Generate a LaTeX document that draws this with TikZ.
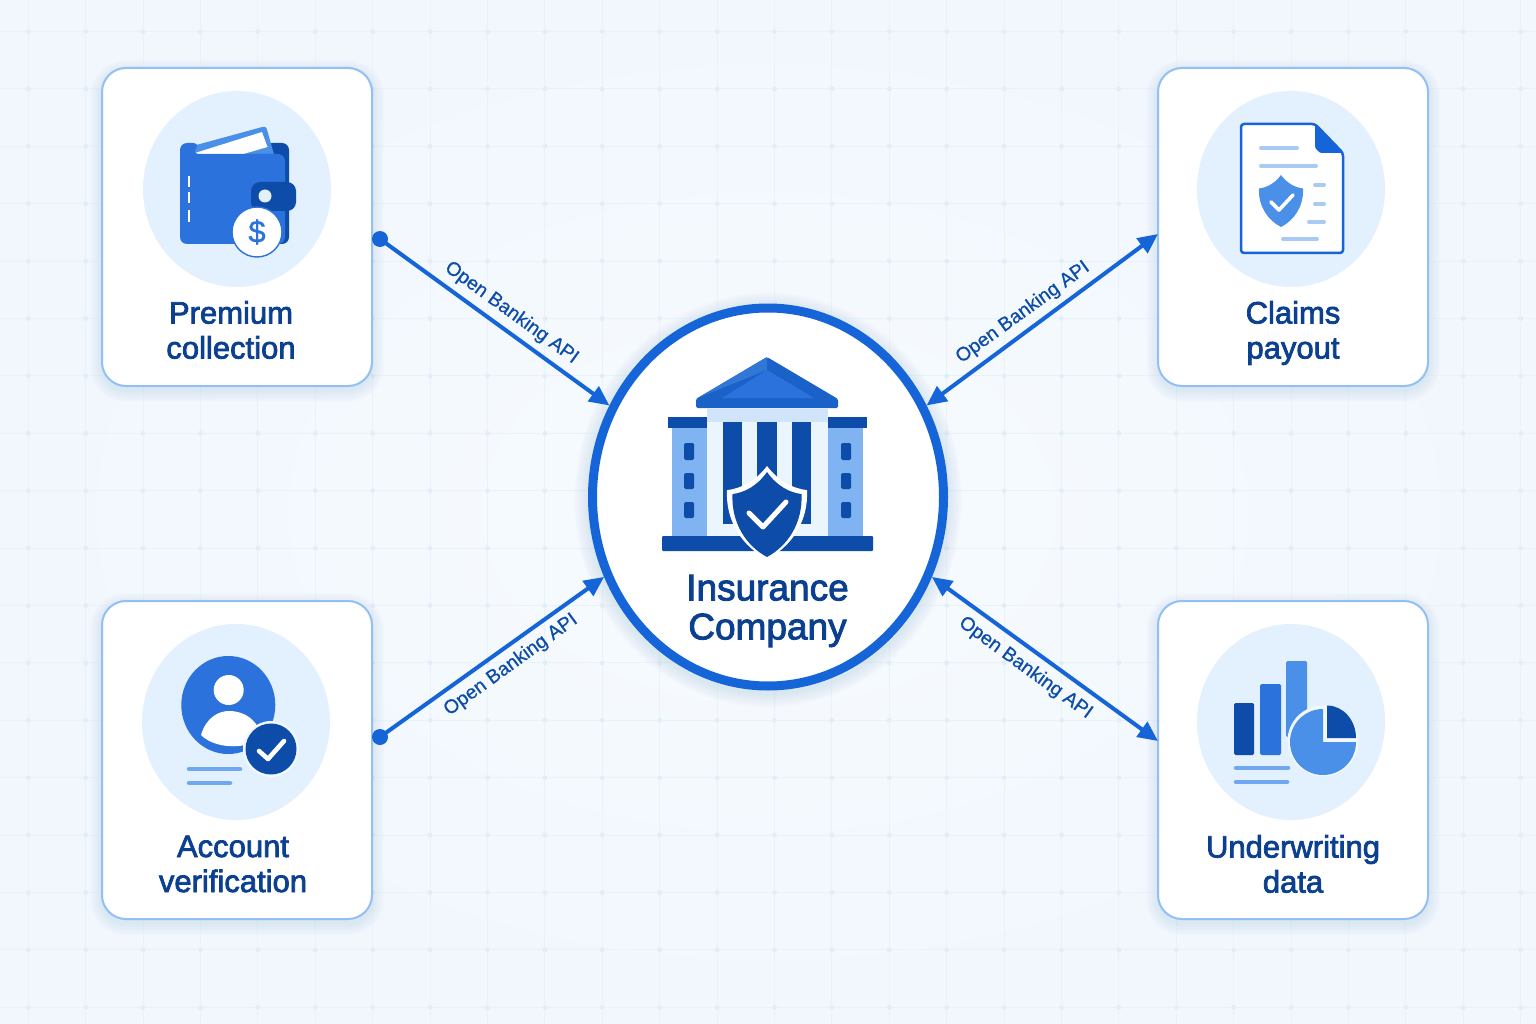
\documentclass[tikz,border=0pt]{standalone}
\usepackage{fontspec}
\setmainfont{Liberation Sans}
\newfontfamily\labelfont[FakeBold=2.4]{Liberation Sans}
\newfontfamily\apifont[FakeBold=0.7]{Liberation Sans}
\usetikzlibrary{arrows.meta,shapes.geometric}
\definecolor{bgin}{HTML}{F7FBFF}
\definecolor{bgout}{HTML}{F1F7FD}
\definecolor{gridc}{HTML}{E9F2FA}
\definecolor{griddot}{HTML}{E3EDF8}
\definecolor{cardedge}{HTML}{93BFF3}
\definecolor{pale}{HTML}{E3F0FD}
\definecolor{ring}{HTML}{1565D8}
\definecolor{roof}{HTML}{1A62C8}
\definecolor{navy}{HTML}{0D4CA8}
\definecolor{mid}{HTML}{2B72DC}
\definecolor{lite}{HTML}{4A90E8}
\definecolor{sky}{HTML}{7FB3F2}
\definecolor{txt}{HTML}{0B3F8F}
\definecolor{shc}{HTML}{2B72DC}
\definecolor{rule}{HTML}{6FA8EE}
\definecolor{softrule}{HTML}{A9CBF3}
\definecolor{band}{HTML}{D0E5FB}
\tikzset{
  card/.style={draw=cardedge,fill=white,line width=2pt,rounded corners=24pt,minimum width=270pt,minimum height=318pt,inner sep=0pt,outer sep=0pt},
  cardtext/.style={text=txt,font=\labelfont\fontsize{31}{35}\selectfont,align=center,inner sep=0pt},
  hubtext/.style={text=txt,font=\labelfont\fontsize{37}{39}\selectfont,align=center,inner sep=0pt},
  apitext/.style={text=navy,font=\apifont\fontsize{19.4}{21}\selectfont,inner sep=0pt},
  link/.style={draw=ring,line width=4pt},
  tip/.style={-{Triangle[length=20pt,width=18pt]}},
  twotip/.style={{Triangle[length=20pt,width=18pt]}-{Triangle[length=20pt,width=18pt]}},
  dotend/.style={circle,fill=ring,minimum size=16pt,inner sep=0pt,outer sep=0pt},
  iconbg/.style={fill=pale},
  tickmark/.style={draw=white,line cap=round,line join=round}
}
\newcommand{\cardshadow}[2]{%
  \foreach \i in {1,...,12}{%
    \fill[shc,opacity=.006,rounded corners=24pt+\i pt] (#1-\i,#2-\i+4) rectangle (#1+270+\i,#2+318+\i+4);
  }}
\newcommand{\shieldshape}[5]{%
  \begin{scope}[shift={(#1,#2)},x=#3pt,y=-#4pt]
    \path[#5] (0,0) .. controls (.3,.17) and (.65,.24) .. (1,.26) .. controls (1.04,.6) and (.6,.87) .. (0,1) .. controls (-.6,.87) and (-1.04,.6) .. (-1,.26) .. controls (-.65,.24) and (-.3,.17) .. (0,0) -- cycle;
  \end{scope}}
\begin{document}
\begin{tikzpicture}[x=1pt,y=-1pt]
\useasboundingbox (0,0) rectangle (1536,1024);
% background
\shade[inner color=bgin,outer color=bgout] (0,0) rectangle (1536,1024);
\foreach \k in {0,...,26}{\draw[gridc,line width=1.1pt] (28.3+57.4*\k,0) -- (28.3+57.4*\k,1024);}
\foreach \k in {0,...,17}{\draw[gridc,line width=1.1pt] (0,31.5+57.4*\k) -- (1536,31.5+57.4*\k);}
\foreach \k in {0,...,26}{\foreach \m in {0,...,17}{\fill[griddot] (28.3+57.4*\k,31.5+57.4*\m) circle[radius=2.4pt];}}
% shadows
\cardshadow{102}{68}\cardshadow{1158}{68}\cardshadow{102}{601}\cardshadow{1158}{601}
\foreach \i in {1,...,14}{\fill[shc,opacity=.007] (768,500) ellipse[x radius=180pt+\i pt,y radius=193.5pt+\i pt];}
% cards
\node[card] (premium) at (237,227) {};
\node[card] (claims) at (1293,227) {};
\node[card] (account) at (237,760) {};
\node[card] (underwriting) at (1293,760) {};
\node[ellipse,draw=ring,fill=white,line width=9pt,minimum width=351pt,minimum height=378pt,inner sep=0pt,outer sep=4.5pt] (hub) at (768,497) {};
% icon discs
\fill[iconbg] (237,189) ellipse[x radius=94pt,y radius=98pt];
\fill[iconbg] (1291,189) ellipse[x radius=94pt,y radius=98pt];
\fill[iconbg] (236,722) ellipse[x radius=94pt,y radius=98pt];
\fill[iconbg] (1291,722) ellipse[x radius=94pt,y radius=98pt];
% wallet
\fill[navy,rounded corners=7pt] (265,143) rectangle (289,244);
\fill[lite,rounded corners=3pt] (189,147) -- (266,126) -- (275,158) -- (192,170) -- cycle;
\fill[white] (195,153) -- (262,132) -- (267.5,147) -- (240,155) -- (195,156) -- cycle;
\fill[mid,rounded corners=7pt] (180,244) -- (180,143) -- (200,143) -- (192,154) -- (285,154) -- (285,244) -- cycle;
\fill[navy,rounded corners=9pt] (251,182) rectangle (296,211);
\fill[pale] (265,196) circle[radius=6.5pt];
\foreach \a/\b in {176/187,192/203,210/222}{\draw[white,line width=1.6pt] (188.7,\a) -- (188.7,\b);}
\fill[white] (257,232) circle[radius=25pt];
\draw[mid,line width=1.4pt] (257,232) circle[radius=25pt];
\node[text=mid,font=\apifont\fontsize{31}{31}\selectfont,inner sep=0pt] (dollar) at (257,232) {\$};
% document
\draw[ring,fill=white,line width=2.5pt,line join=round,rounded corners=3pt] (1241,124) -- (1315,124) -- (1343,153) -- (1343,253) -- (1241,253) -- cycle;
\fill[ring,rounded corners=1.5pt] (1315,124) -- (1343,153) -- (1320,153) -- (1315,148) -- cycle;
\foreach \a/\b/\c in {1259/1299/148,1259/1318/166,1313/1326/185,1313/1326/204,1307/1326/222,1281/1319/239}{\draw[softrule,line width=4pt,line cap=round] (\a+2,\c) -- (\b-2,\c);}
\shieldshape{1281}{175}{22}{52}{fill=lite}
\draw[tickmark,line width=3.6pt] (1271,202) -- (1279,210) -- (1293,195);
% building
\fill[pale!70!white] (707,422) rectangle (828,536);
\fill[band] (707,409) rectangle (828,422);
\foreach \a/\b in {723/742,757/777,792/811}{\fill[navy] (\a,422) rectangle (\b,524);}
\fill[sky] (672,427) rectangle (707,536);
\fill[sky] (828,427) rectangle (863,536);
\fill[navy] (668,417) rectangle (707,428);
\fill[navy] (828,417) rectangle (867,428);
\foreach \a in {684,841}{\foreach \b/\c in {443/460,473/489,502/518}{\fill[navy,rounded corners=1.5pt] (\a,\b) rectangle (\a+10,\c);}}
\fill[roof,rounded corners=1.5pt] (696,408) -- (696,399) -- (767,357) -- (838,399) -- (838,408) -- cycle;
\fill[lite!45!roof] (767,357) -- (767,370) -- (700,397) -- (696,399) -- cycle;
\fill[mid] (722,398) -- (767,370) -- (814,398) -- cycle;
\fill[navy,rounded corners=1pt] (662,536) rectangle (873,551);
\shieldshape{767}{466}{40}{93}{fill=white}
\shieldshape{767}{472}{34.5}{85}{fill=navy}
\draw[tickmark,line width=5pt] (749,513) -- (763,527) -- (786,502);
% person
\fill[mid] (228.3,705) ellipse[x radius=47pt,y radius=49pt];
\fill[white] (228.7,690) circle[radius=15pt];
\fill[white] (201,735) .. controls (206,718) and (218,711) .. (229,711) .. controls (242,711) and (252,717) .. (258,727) -- (245,745) .. controls (232,748) and (212,746) .. (201,735) -- cycle;
\fill[pale!50!white] (271,749) circle[radius=28pt];
\fill[navy] (271,749) circle[radius=25.5pt];
\draw[tickmark,line width=4.6pt] (259,751) -- (268,759) -- (284,741);
\draw[rule,line width=4.5pt,line cap=round] (189,769) -- (240,769);
\draw[rule,line width=4.5pt,line cap=round] (189,783) -- (230,783);
% chart
\fill[navy,rounded corners=1.5pt] (1234,703) rectangle (1254,755);
\fill[mid,rounded corners=1.5pt] (1260,684) rectangle (1281,755);
\fill[lite,rounded corners=1.5pt] (1286,661) rectangle (1307,737);
\fill[pale!50!white] (1323,741) circle[radius=35.5pt];
\fill[lite] (1323,742) -- (1323,709) arc[start angle=90,end angle=360,radius=33pt] -- cycle;
\fill[navy] (1327,738) -- (1327,705.5) arc[start angle=90,end angle=0,x radius=29pt,y radius=32.5pt] -- cycle;
\draw[rule,line width=4.5pt,line cap=round] (1236,768) -- (1288,768);
\draw[rule,line width=4.5pt,line cap=round] (1236,782) -- (1287,782);
% card labels
\node[cardtext] (premiumtext) at (231,330) {Premium\\collection};
\node[cardtext] (claimstext) at (1293,333) {Claims\\payout};
\node[cardtext] (accounttext) at (233,864) {Account\\verification};
\node[cardtext] (underwritingtext) at (1293,864) {Underwriting\\data};
\node[hubtext] (hubtitle) at (767.5,611) {Insurance\\Company};
% connectors
\node[dotend] (premiumport) at (380,239) {};
\node[dotend] (accountport) at (380,737) {};
\draw[link,tip] (premiumport.center) -- (hub.150);
\draw[link,tip] (accountport.center) -- (hub.206);
\draw[link,twotip] (hub.30) -- (claims.west |- 0,234);
\draw[link,twotip] (hub.334) -- (underwriting.west |- 0,741);
\node[apitext,rotate=-36] (api1) at (511.5,313) {Open Banking API};
\node[apitext,rotate=36] (api2) at (1023,312.5) {Open Banking API};
\node[apitext,rotate=36] (api3) at (511,665) {Open Banking API};
\node[apitext,rotate=-36] (api4) at (1025.5,668) {Open Banking API};
\end{tikzpicture}
\end{document}
